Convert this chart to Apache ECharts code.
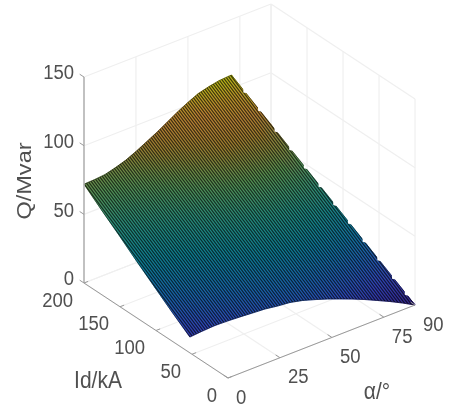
<!DOCTYPE html>
<html><head><meta charset="utf-8">
<style>html,body{margin:0;padding:0;background:#fff}#c{width:452px;height:408px}</style>
<script src="https://cdn.jsdelivr.net/npm/echarts@6/dist/echarts.min.js"></script>
</head><body><div id="c"></div>
<script>
const alphaTicks=[0,25,50,75,90];
const idTicks=[0,50,100,150,200];
const qTicks=[0,50,100,150];
const alphaRows=[0,5,10,15,20,25,30,35,40,45,50,55,60,65,70,71,75,80,85,90];
const idLow=[53,50,47.1,44.2,41.2,38.3,35.3,32.4,29.4,26.5,23.6,20.6,17.7,14.7,11.8,11.2,8.8,5.9,2.9,0];
const idHigh=[200,200,200,200,200,200,200,200,200,200,200,200,200,200,200,200,158,105,52.6,0];
const qRows=[
[11.5,21,31,41,51.5,61.5,72],
[13.9,23,33,42.5,52.5,62,72.3],
[16,25,34.5,44,54,63.5,73],
[17.3,26.5,36,46,56,65.5,75],
[18.4,28,37.5,47.5,57.5,67.5,77.5],
[19.3,29,39.5,49.5,60,70.5,81],
[20.3,30.5,41,52,63,74,85],
[20.5,31.5,43,54.5,66,77.5,89],
[21.2,33,45,57,69,81,93.5],
[20.7,33,46,59,72,85,98],
[19.4,33,46.5,60.5,74.5,88,102],
[17.9,32.5,47,61.5,76,91,105.5],
[16,31,46.5,61.5,77,92,107.5],
[14,30,45.5,61.5,77,93,109],
[11.7,28,44,60.5,77,93,109.5],
[11.2,27.5,44,60.5,77,93,109.5],
[9.1,22,35,48,61,74,86.5],
[6.4,15,23.5,32,40.5,49,57.6],
[3.4,7.5,12,16,20.5,24.5,28.8],
[0,0,0,0,0,0,0]];
// places along the right edge where the mesh steps leave a small notch (fraction of the edge)
const edgeSteps=[0.06,0.14,0.23,0.31,0.39,0.47,0.55,0.63,0.71,0.79,0.87,0.94];
const parula=[[62,38,168],[65,85,240],[30,130,220],[15,165,190],[51,184,160],[112,191,107],[205,165,60],[250,170,70],[240,245,25]];
const qColorMax=110;

const font='"Liberation Sans", Arial, sans-serif';
const axisGray='#9a9a9a', wallGray='#efefef', textGray='#505050';

function proj(a,d,q){return [228+2.078*a-0.72*d, 378-0.811*a-0.475*d-1.373*q];}
function cmap(q){
  const t=Math.max(0,Math.min(0.9999,q/qColorMax))*(parula.length-1);
  const i=Math.floor(t),f=t-i,A=parula[i],B=parula[i+1];
  return 'rgb('+[0,1,2].map(k=>Math.round(A[k]+(B[k]-A[k])*f)).join(',')+')';
}
function idAt(i,k){return idLow[i]+(idHigh[i]-idLow[i])*k/6;}
function vert(i,k){return {p:proj(alphaRows[i],idAt(i,k),qRows[i][k]),q:qRows[i][k]};}

// stripe tile imitating the dense mesh lines of the surface
const tile=document.createElement('canvas');tile.width=3;tile.height=4;
(function(){const g=tile.getContext('2d'),im=g.createImageData(3,4);
  for(let y=0;y<4;y++)for(let x=0;x<3;x++){
    const ph=((4*x-3*y)%12+12)%12/12,al=0.49+0.25*Math.cos(2*Math.PI*ph),o=(y*3+x)*4;
    im.data[o]=0;im.data[o+1]=0;im.data[o+2]=0;im.data[o+3]=Math.round(al*255);}
  g.putImageData(im,0,0);})();

const wallData=[];
alphaTicks.forEach(a=>{wallData.push(['floorA',a]);wallData.push(['wallA',a]);});
idTicks.forEach(d=>{wallData.push(['floorD',d]);wallData.push(['wallD',d]);});
qTicks.forEach(q=>{wallData.push(['wallQ1',q]);wallData.push(['wallQ2',q]);});
const aMax=90,dMax=200,qMax=150;

const cellData=[];
for(let i=0;i<alphaRows.length-1;i++)for(let k=0;k<6;k++)cellData.push([i,k]);

const axisData=[['lineA'],['lineD'],['lineQ']];
alphaTicks.forEach(v=>axisData.push(['tickA',v]));
idTicks.forEach(v=>axisData.push(['tickD',v]));
qTicks.forEach(v=>axisData.push(['tickQ',v]));

const labelData=[];
alphaTicks.forEach(v=>labelData.push(['A',v]));
idTicks.forEach(v=>labelData.push(['D',v]));
qTicks.forEach(v=>labelData.push(['Q',v]));

function seg(api,a,b,stroke,w){
  const p=api.coord(a),q=api.coord(b);
  return {type:'line',shape:{x1:p[0],y1:p[1],x2:q[0],y2:q[1]},style:{stroke:stroke,lineWidth:w,fill:null}};
}
function base(extra){return Object.assign({type:'custom',coordinateSystem:'cartesian2d',silent:true,animation:false,clip:false},extra);}

const option={
  animation:false,
  backgroundColor:'#fff',
  grid:{left:0,right:0,top:0,bottom:0},
  xAxis:{type:'value',min:0,max:452,show:false},
  yAxis:{type:'value',min:0,max:408,inverse:true,show:false},
  series:[
    base({name:'walls',data:wallData,encode:{x:[],y:[]},renderItem(p,api){
      const [kind,v]=wallData[p.dataIndex];let A,B;
      if(kind==='floorA'){A=proj(v,0,0);B=proj(v,dMax,0);}
      if(kind==='wallA'){A=proj(v,dMax,0);B=proj(v,dMax,qMax);}
      if(kind==='floorD'){A=proj(0,v,0);B=proj(aMax,v,0);}
      if(kind==='wallD'){A=proj(aMax,v,0);B=proj(aMax,v,qMax);}
      if(kind==='wallQ1'){A=proj(0,dMax,v);B=proj(aMax,dMax,v);}
      if(kind==='wallQ2'){A=proj(aMax,dMax,v);B=proj(aMax,0,v);}
      return seg(api,A,B,wallGray,1.2);
    }}),
    base({name:'surface',data:cellData,encode:{x:[],y:[]},renderItem(p,api){
      const [i,k]=cellData[p.dataIndex];
      const c=[vert(i,k),vert(i+1,k),vert(i+1,k+1),vert(i,k+1)];
      const pts=c.map(v=>api.coord(v.p));
      const A=pts[0],B=pts[1],C=pts[3];
      const u=[B[0]-A[0],B[1]-A[1]],w=[C[0]-A[0],C[1]-A[1]];
      const du=c[1].q-c[0].q,dw=c[3].q-c[0].q;
      let det=u[0]*w[1]-u[1]*w[0];
      let gx=0,gy=0;
      if(Math.abs(det)>1e-6){gx=(du*w[1]-dw*u[1])/det;gy=(u[0]*dw-w[0]*du)/det;}
      const n=gx*gx+gy*gy;
      const qs=c.map(v=>v.q),qa=Math.min(...qs),qb=Math.max(...qs);
      let fill=cmap((qa+qb)/2);
      if(n>1e-9&&qb-qa>0.01){
        const s=(qa-c[0].q)/n,e=(qb-c[0].q)/n;
        fill={type:'linear',global:true,x:A[0]+gx*s,y:A[1]+gy*s,x2:A[0]+gx*e,y2:A[1]+gy*e,
          colorStops:[{offset:0,color:cmap(qa)},{offset:.5,color:cmap((qa+qb)/2)},{offset:1,color:cmap(qb)}]};
      }
      return {type:'polygon',shape:{points:pts},style:{fill:fill,stroke:fill,lineWidth:.7}};
    }}),
    base({name:'mesh',data:[[0]],encode:{x:[],y:[]},renderItem(p,api){
      const pts=[],L=alphaRows.length;
      for(let i=0;i<L;i++)pts.push(api.coord(vert(i,6).p));
      for(let k=5;k>=0;k--)pts.push(api.coord(vert(L-1,k).p));
      for(let i=L-2;i>=0;i--)pts.push(api.coord(vert(i,0).p));
      for(let k=1;k<6;k++)pts.push(api.coord(vert(0,k).p));
      return {type:'group',children:[
        {type:'polygon',shape:{points:pts},style:{fill:'none',stroke:'rgba(0,0,0,0.49)',lineWidth:1}},
        {type:'polygon',shape:{points:pts},style:{fill:{image:tile,repeat:'repeat'},stroke:null}}
      ]};
    }}),
    base({name:'edgeSteps',data:edgeSteps.map(t=>[t]),encode:{x:[],y:[]},renderItem(p,api){
      const t=edgeSteps[p.dataIndex],a=vert(15,6).p,b=vert(19,6).p;
      const at=s=>[a[0]+(b[0]-a[0])*s,a[1]+(b[1]-a[1])*s];
      const P=at(t),Q=at(t+0.022),M=at(t+0.011);
      const pts=[[P[0]+.8,P[1]-.6],[Q[0]+.8,Q[1]-.6],[M[0]-1.2,M[1]+1]].map(v=>api.coord(v));
      return {type:'polygon',shape:{points:pts},style:{fill:'#fff',stroke:null}};
    }}),
    base({name:'axes',data:axisData,encode:{x:[],y:[]},renderItem(p,api){
      const [kind,v]=axisData[p.dataIndex];
      if(kind==='lineA')return seg(api,proj(0,0,0),proj(aMax,0,0),axisGray,1);
      if(kind==='lineD')return seg(api,proj(0,0,0),proj(0,dMax,0),axisGray,1);
      if(kind==='lineQ')return seg(api,proj(0,dMax,0),proj(0,dMax,qMax),'#b4b4b4',1.6);
      if(kind==='tickA')return seg(api,proj(v,0,0),proj(v,6,0),axisGray,1);
      if(kind==='tickD')return seg(api,proj(0,v,0),proj(2,v,0),axisGray,1);
      return seg(api,proj(0,dMax,v),proj(0,dMax+6,v),axisGray,1);
    }}),
    base({name:'labels',data:labelData,encode:{x:[],y:[]},renderItem(p,api){
      const [kind,v]=labelData[p.dataIndex];
      let P,ox,oy,al;
      if(kind==='A'){P=proj(v,0,0);ox=8;oy=20;al='left';}
      if(kind==='D'){P=proj(0,v,0);ox=-11;oy=18;al='right';}
      if(kind==='Q'){P=proj(0,dMax,v);ox=-10;oy=-3.5;al='right';}
      const c=api.coord(P);
      return {type:'text',x:c[0]+ox,y:c[1]+oy,scaleY:1.12,style:{text:String(v),fill:textGray,font:'18.5px '+font,textAlign:al,textVerticalAlign:'middle'}};
    }}),
    base({name:'titles',data:[['Q/Mvar'],['Id/kA'],['α/°']],encode:{x:[],y:[]},renderItem(p,api){
      const t=['Q/Mvar','Id/kA','α/°'][p.dataIndex];
      const P=[[25,181],[98,382],[377,393]][p.dataIndex];
      const c=api.coord(P);
      const rot=p.dataIndex===0;
      return {type:'text',x:c[0],y:c[1],rotation:rot?Math.PI/2:0,scaleY:rot?1:1.12,scaleX:rot?1.12:1,
        style:{text:t,fill:textGray,font:'21px '+font,textAlign:'center',textVerticalAlign:'middle'}};
    }})
  ]
};
const chart=echarts.init(document.getElementById('c'),null,{renderer:'canvas',width:452,height:408});
chart.setOption(option);
</script></body></html>
